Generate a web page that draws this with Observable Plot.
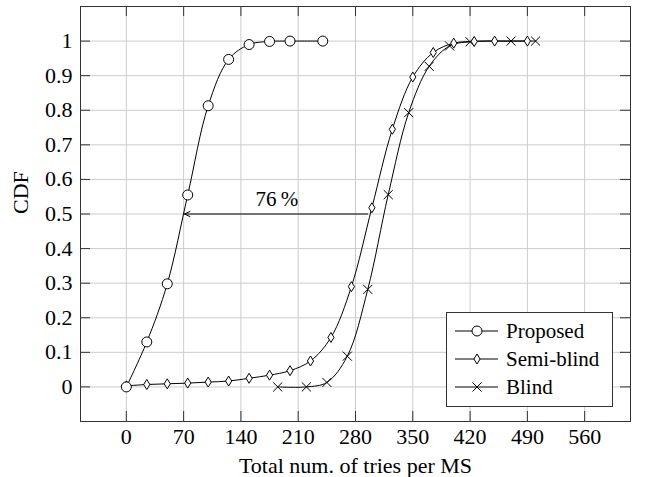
<!DOCTYPE html>
<html>
<head>
<meta charset="utf-8">
<script src="https://cdn.jsdelivr.net/npm/d3@7"></script>
<script src="https://cdn.jsdelivr.net/npm/@observablehq/plot@0.6"></script>
<style>
  html, body { margin: 0; padding: 0; background: white; }
  #wrap { position: relative; width: 647px; height: 477px; }
  #legend { position: absolute; left: 446px; top: 312px; width: 165px; height: 93px;
            border: 1px solid #333; background: white; }
  svg text { font-family: "Liberation Serif"; }
</style>
</head>
<body>
<div id="wrap"><div id="chart"></div><div id="legend"></div></div>
<script>
// ---- data ----
const seriesNames = ["Proposed", "Semi-blind", "Blind"];

const proposedX = [0, 25, 50, 75, 100, 125, 150, 175, 200, 240];
const proposedY = [0, 0.13, 0.298, 0.555, 0.813, 0.947, 0.99, 0.999, 1, 1];

const semiX = [0, 25, 50, 75, 100, 125, 150, 175, 200, 225, 250, 275, 300, 325, 350, 375, 400, 425, 450, 490];
const semiY = [0.003, 0.007, 0.009, 0.011, 0.014, 0.017, 0.025, 0.034, 0.047, 0.075, 0.143, 0.29, 0.518, 0.745, 0.896, 0.967, 0.994, 0.999, 1, 1];

const blindX = [185, 220, 245, 270, 295, 320, 345, 370, 395, 420, 470, 500];
const blindY = [0, 0, 0.013, 0.089, 0.282, 0.556, 0.793, 0.927, 0.986, 0.998, 1, 1];

const xTicks = [0, 70, 140, 210, 280, 350, 420, 490, 560];
const yTicks = [0, 0.1, 0.2, 0.3, 0.4, 0.5, 0.6, 0.7, 0.8, 0.9, 1];
const yTickLabels = ["0", "0.1", "0.2", "0.3", "0.4", "0.5", "0.6", "0.7", "0.8", "0.9", "1"];

const arrowFromX = [295];
const arrowToX = [71];
const arrowY = [0.5];
const arrowLabel = ["76\u202F%"];
const arrowLabelX = [184];
const arrowLabelY = [0.543];

const xLabel = "Total num. of tries per MS";
const yLabel = "CDF";

// ---- build tables ----
const mk = (name, xs, ys) => xs.map((x, i) => ({series: name, x, y: ys[i]}));
const proposed = mk(seriesNames[0], proposedX, proposedY);
const semi = mk(seriesNames[1], semiX, semiY);
const blind = mk(seriesNames[2], blindX, blindY);

const tallDiamond = {
  draw(ctx, size) {
    const r = Math.sqrt(size / Math.PI);
    ctx.moveTo(0, -r);
    ctx.lineTo(r * 0.62, 0);
    ctx.lineTo(0, r);
    ctx.lineTo(-r * 0.62, 0);
    ctx.closePath();
  }
};

const font = "Liberation Serif";
const W = 647, H = 477, mL = 80, mR = 17, mT = 6, mB = 56;
const fw = W - mL - mR, fh = H - mT - mB, tk = 10;

const chart = Plot.plot({
  width: W, height: H,
  marginLeft: mL, marginRight: mR, marginTop: mT, marginBottom: mB,
  x: {domain: [-56, 616]},
  y: {domain: [-0.1, 1.1]},
  style: {fontFamily: font, fontSize: "22px", background: "white", color: "black", overflow: "visible"},
  marks: [
    Plot.gridX(xTicks, {stroke: "#cccccc", strokeOpacity: 1}),
    Plot.gridY(yTicks, {stroke: "#cccccc", strokeOpacity: 1}),
    Plot.tickX(xTicks, {x: d => d, insetTop: fh - tk, stroke: "#333"}),
    Plot.tickX(xTicks, {x: d => d, insetBottom: fh - tk, stroke: "#333"}),
    Plot.tickY(yTicks, {y: d => d, insetRight: fw - tk, stroke: "#333"}),
    Plot.tickY(yTicks, {y: d => d, insetLeft: fw - tk, stroke: "#333"}),
    Plot.frame({stroke: "#333"}),
    Plot.axisX(xTicks, {tickSize: 0, tickPadding: 7, label: null, fontSize: 22}),
    Plot.axisY(yTicks, {tickSize: 0, tickPadding: 8, label: null, fontSize: 22,
      tickFormat: d => yTickLabels[yTicks.indexOf(d)]}),
    Plot.text([xLabel], {frameAnchor: "bottom", dy: 44, lineAnchor: "middle", fontSize: 22}),
    Plot.text([yLabel], {frameAnchor: "left", dx: -60, rotate: -90, lineAnchor: "middle", fontSize: 22}),
    Plot.line(proposed, {x: "x", y: "y", curve: "catmull-rom", stroke: "black", strokeWidth: 1}),
    Plot.line(semi, {x: "x", y: "y", curve: "catmull-rom", stroke: "black", strokeWidth: 1}),
    Plot.line(blind, {x: "x", y: "y", curve: "catmull-rom", stroke: "black", strokeWidth: 1}),
    Plot.dot(blind, {x: "x", y: "y", symbol: "times", r: 4.2, stroke: "black", strokeWidth: 1}),
    Plot.dot(semi, {x: "x", y: "y", symbol: tallDiamond, r: 5, stroke: "black", fill: "white", strokeWidth: 1}),
    Plot.dot(proposed, {x: "x", y: "y", symbol: "circle", r: 5, stroke: "black", fill: "white", strokeWidth: 1}),
    Plot.arrow(arrowY.map((y, i) => ({x1: arrowFromX[i], x2: arrowToX[i], y})),
      {x1: "x1", x2: "x2", y1: "y", y2: "y", stroke: "black", strokeWidth: 1, headLength: 9, headAngle: 50}),
    Plot.text(arrowLabel.map((t, i) => ({t, x: arrowLabelX[i], y: arrowLabelY[i]})),
      {x: "x", y: "y", text: "t", lineAnchor: "middle", fontSize: 21})
  ]
});
document.getElementById("chart").appendChild(chart);

// ---- legend ----
const legendSymbols = ["circle", tallDiamond, "times"];
const legendFills = ["white", "white", "none"];
const legendR = [5, 5, 4.2];
const leg = d3.select("#legend").append("svg").attr("width", 165).attr("height", 93)
  .style("font-family", font).style("font-size", "21px");
const rowY = [18, 46, 74];
seriesNames.forEach((name, i) => {
  const g = leg.append("g").attr("transform", `translate(0,${rowY[i]})`);
  g.append("line").attr("x1", 8).attr("x2", 51).attr("y1", 0).attr("y2", 0).attr("stroke", "black");
  const sym = typeof legendSymbols[i] === "string"
    ? (legendSymbols[i] === "circle" ? d3.symbolCircle : d3.symbolTimes) : legendSymbols[i];
  g.append("path").attr("transform", "translate(30,0)")
    .attr("d", d3.symbol(sym, Math.PI * legendR[i] * legendR[i])())
    .attr("fill", legendFills[i]).attr("stroke", "black");
  g.append("text").attr("x", 59).attr("y", 0).attr("dy", "0.32em").text(name);
});
</script>
</body>
</html>
